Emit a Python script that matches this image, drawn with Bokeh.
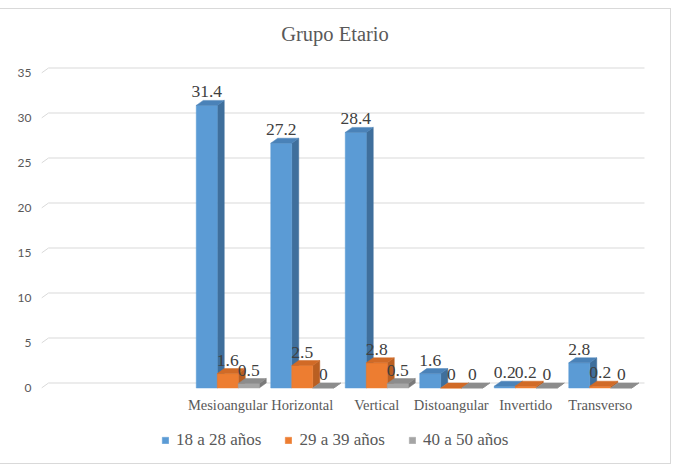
from bokeh.plotting import figure
from bokeh.models import Range1d, FixedTicker, Legend, LegendItem
from bokeh.core.properties import value
from bokeh.embed import file_html
from bokeh.resources import INLINE

# ---- data ----
title_text = "Grupo Etario"
categories = ["Mesioangular", "Horizontal", "Vertical", "Distoangular", "Invertido", "Transverso"]
series_names = ["18 a 28 años", "29 a 39 años", "40 a 50 años"]
s18_28 = [31.4, 27.2, 28.4, 1.6, 0.2, 2.8]
s29_39 = [1.6, 2.5, 2.8, 0, 0.2, 0.2]
s40_50 = [0.5, 0, 0.5, 0, 0, 0]
y_ticks = [0, 5, 10, 15, 20, 25, 30, 35]

# ---- styling / layout (page pixels) ----
SERIF = "'Liberation Serif'"
W, H = 670, 454          # chart box inside the page
box_top = 9
empty_slots = 2
n_slots = empty_slots + len(categories)
front_left_px, front_right_px = 41, 637
frame_left, frame_right = 41, 650
frame_top = 0
frame_bottom = H
zero_px = 387.5 - box_top
px_per_unit_y = 9.0
px_per_slot = (front_right_px - front_left_px) / n_slots
depth_x = 7 / px_per_slot
depth_y = 5 / px_per_unit_y
bar_w = 21 / px_per_slot
cat_label_y = -(404.5 - 387.5) / px_per_unit_y
title_x = (334.5 - front_left_px) / px_per_slot
title_y = (387.5 - 33.5) / px_per_unit_y

faces = [
    ("#5B9BD5", "#3F6F9C", "#4A82B8"),
    ("#ED7D31", "#B95F22", "#D16A26"),
    ("#A5A5A5", "#7A7A7A", "#8C8C8C"),
]

x_start = (frame_left - front_left_px) / px_per_slot
x_end = (frame_right - front_left_px) / px_per_slot
y_start = -(frame_bottom - zero_px) / px_per_unit_y
y_end = (zero_px - frame_top) / px_per_unit_y

p = figure(width=W, height=H, output_backend="svg", toolbar_location=None,
           x_range=Range1d(x_start, x_end), y_range=Range1d(y_start, y_end),
           min_border_left=frame_left, min_border_right=W - frame_right,
           min_border_top=0, min_border_bottom=0,
           margin=(box_top, 0, 0, 0),
           styles={"outline": "1px solid #D9D9D9"})
p.outline_line_color = None
p.xgrid.visible = False
p.ygrid.visible = False
p.background_fill_color = "white"
p.border_fill_color = "white"

# title
p.text([title_x], [title_y], text=[title_text], text_font=value(SERIF),
       text_font_size="20.5px", text_color="#595959", text_align="center",
       text_baseline="middle")

# back-wall gridlines
gx0, gy0, gx1, gy1 = [], [], [], []
for t in y_ticks:
    gx0 += [0, depth_x]
    gy0 += [t, t + depth_y]
    gx1 += [depth_x, n_slots + depth_x]
    gy1 += [t + depth_y, t + depth_y]
p.segment(gx0, gy0, gx1, gy1, line_color="#D9D9D9", line_width=1)

# 3D bars
all_series = [s18_28, s29_39, s40_50]
front_renderers = []
group_w = bar_w * len(all_series)
for si, vals in enumerate(all_series):
    front, side, top = faces[si]
    lefts, rights, tops = [], [], []
    side_xs, side_ys, top_xs, top_ys = [], [], [], []
    lx, ly, lt = [], [], []
    for ci, v in enumerate(vals):
        slot = empty_slots + ci
        x0 = slot + 0.5 - group_w / 2 + si * bar_w
        x1 = x0 + bar_w
        lefts.append(x0); rights.append(x1); tops.append(v)
        side_xs.append([x1, x1 + depth_x, x1 + depth_x, x1])
        side_ys.append([0, depth_y, v + depth_y, v])
        top_xs.append([x0, x0 + depth_x, x1 + depth_x, x1])
        top_ys.append([v, v + depth_y, v + depth_y, v])
        lx.append((x0 + x1) / 2)
        ly.append(v + depth_y)
        lt.append(f"{v:g}")
    p.patches(side_xs, side_ys, fill_color=side, line_color=side, line_width=0.5)
    r = p.quad(left=lefts, right=rights, bottom=[0] * len(vals), top=tops,
               fill_color=front, line_color=front, line_width=0.5)
    p.patches(top_xs, top_ys, fill_color=top, line_color=top, line_width=0.5)
    front_renderers.append((r, lx, ly, lt))

for r, lx, ly, lt in front_renderers:
    p.text(lx, ly, text=lt, text_font=value(SERIF), text_font_size="17.5px",
           text_color="#404040", text_align="center", text_baseline="bottom", y_offset=-3)

# category labels (x axis)
cat_x = [empty_slots + i + 0.5 for i in range(len(categories))]
p.text(cat_x, [cat_label_y] * len(categories), text=categories, text_font=value(SERIF),
       text_font_size="14.5px", text_color="#595959", text_align="center",
       text_baseline="middle")
p.xaxis.visible = False

# y axis
p.yaxis.ticker = FixedTicker(ticks=y_ticks)
p.yaxis.axis_line_color = None
p.yaxis.major_tick_line_color = None
p.yaxis.minor_tick_line_color = None
p.yaxis.major_label_standoff = 4
p.yaxis.major_label_text_font = "Lato"
p.yaxis.major_label_text_font_size = "12px"
p.yaxis.major_label_text_color = "#595959"

legend = Legend(items=[LegendItem(label=n, renderers=[fr[0]]) for n, fr in zip(series_names, front_renderers)],
                orientation="horizontal", location=(120, 13),
                label_text_font=SERIF, label_text_font_size="17px",
                label_text_color="#595959", glyph_width=8, glyph_height=8,
                label_standoff=7, spacing=23, padding=0, margin=0,
                border_line_color=None, background_fill_alpha=0)
p.add_layout(legend, "center")

open("out.html", "w").write(file_html(p, INLINE))
